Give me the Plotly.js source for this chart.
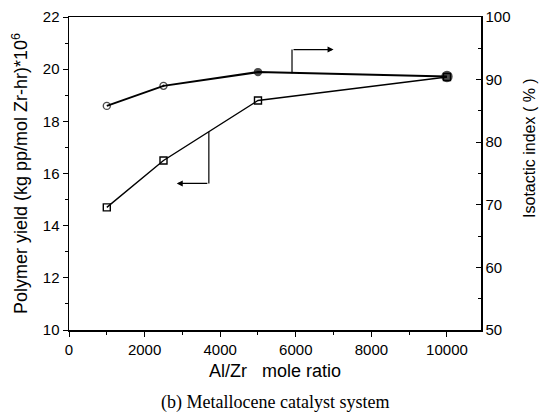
<!DOCTYPE html>
<html>
<head>
<meta charset="utf-8">
<script src="https://cdn.plot.ly/plotly-3.0.1.min.js"></script>
<style>html,body{margin:0;padding:0;background:#fff;}#chart{width:539px;height:415px;}</style>
</head>
<body>
<div id="chart"></div>
<script>
const alZr = [1000, 2500, 5000, 10000];
const polymerYield = [14.7, 16.5, 18.8, 19.7];
const isotacticIndex = [85.8, 89.0, 91.2, 90.5];
const isoSymbols = ['circle-open', 'circle-open-dot', 'circle', 'circle'];
const leftTicks = [10, 12, 14, 16, 18, 20, 22];
const rightTicks = [50, 60, 70, 80, 90, 100];
const xTicks = [0, 2000, 4000, 6000, 8000, 10000];

const tickFont = {family: 'Liberation Sans, Arial, sans-serif', size: 15, color: '#000'};
const titleFont = {family: 'Liberation Sans, Arial, sans-serif', size: 18, color: '#000'};

const traces = [
  {x: alZr, y: polymerYield, type: 'scatter', mode: 'lines+markers', yaxis: 'y', cliponaxis: false,
   line: {color: '#000', width: 1.4},
   marker: {symbol: 'square-open', size: 7, color: '#000', line: {width: 1.4, color: '#000'}}},
  {x: alZr, y: isotacticIndex, type: 'scatter', mode: 'lines+markers', yaxis: 'y2', cliponaxis: false,
   line: {color: '#000', width: 2},
   marker: {symbol: isoSymbols, size: [7, 7, 7, 10], color: '#000', line: {width: 1.4, color: '#000'}}}
];

const layout = {
  width: 539, height: 415,
  margin: {l: 69, r: 58, t: 17, b: 85},
  paper_bgcolor: '#fff', plot_bgcolor: '#fff',
  showlegend: false,
  xaxis: {
    range: [0, 10900], tickvals: xTicks, ticktext: xTicks.map(String),
    showline: true, linecolor: '#000', linewidth: 1.5, mirror: true,
    ticks: 'outside', ticklen: 5, tickcolor: '#000', showgrid: false, zeroline: false,
    minor: {dtick: 1000, ticks: 'outside', ticklen: 3, tickcolor: '#000'},
    tickfont: tickFont,
    title: {text: 'Al/Zr&nbsp;&nbsp;&nbsp;mole ratio', font: titleFont, standoff: 8}
  },
  yaxis: {
    range: [10, 22], tickvals: leftTicks, ticktext: leftTicks.map(String),
    showline: true, linecolor: '#000', linewidth: 1.5,
    ticks: 'outside', ticklen: 5, tickcolor: '#000', showgrid: false, zeroline: false,
    minor: {dtick: 1, ticks: 'outside', ticklen: 3, tickcolor: '#000'},
    tickfont: tickFont,
    title: {text: 'Polymer yield (kg pp/mol Zr-hr)*10<sup>6</sup>', font: titleFont, standoff: 10}
  },
  yaxis2: {
    range: [50, 100], tickvals: rightTicks, ticktext: rightTicks.map(String),
    overlaying: 'y', side: 'right',
    showline: true, linecolor: '#000', linewidth: 1.5,
    ticks: 'inside', ticklen: 5, tickcolor: '#000', showgrid: false, zeroline: false,
    minor: {dtick: 5, ticks: 'inside', ticklen: 3, tickcolor: '#000'},
    tickfont: tickFont
  },
  shapes: [
    {type: 'line', xref: 'x', yref: 'y2', x0: 5900, x1: 5900, y0: 91.0, y1: 94.8, line: {color: '#000', width: 1.2}},
    {type: 'line', xref: 'x', yref: 'y', x0: 3700, x1: 3700, y0: 17.6, y1: 15.62, line: {color: '#000', width: 1.2}}
  ],
  annotations: [
    {xref: 'x', yref: 'y2', x: 7000, y: 94.8, axref: 'x', ayref: 'y2', ax: 5900, ay: 94.8,
     text: '', showarrow: true, arrowhead: 2, arrowsize: 1, arrowwidth: 1.2, arrowcolor: '#000'},
    {xref: 'x', yref: 'y', x: 2850, y: 15.62, axref: 'x', ayref: 'y', ax: 3700, ay: 15.62,
     text: '', showarrow: true, arrowhead: 2, arrowsize: 1, arrowwidth: 1.2, arrowcolor: '#000'},
    {xref: 'paper', yref: 'paper', x: 1.116, y: 0.581, xanchor: 'center', yanchor: 'middle', textangle: -90,
     text: 'Isotactic index ( % )', showarrow: false, font: {family: 'Liberation Sans, Arial, sans-serif', size: 16, color: '#000'}},
    {xref: 'paper', yref: 'paper', x: 0.5, y: -0.233, yanchor: 'middle', xanchor: 'center',
     text: '(b) Metallocene catalyst system', showarrow: false,
     font: {family: 'Liberation Serif, Times New Roman, serif', size: 18, color: '#000'}}
  ]
};

Plotly.newPlot('chart', traces, layout, {displayModeBar: false, staticPlot: true});
</script>
</body>
</html>
